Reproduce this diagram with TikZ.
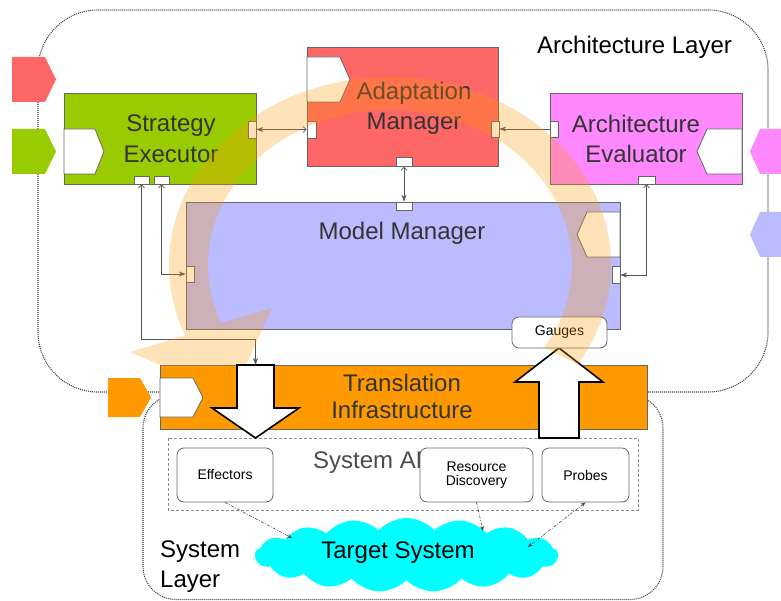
\documentclass[tikz,border=0pt]{standalone}
\usepackage{fontspec}
\setmainfont{Liberation Sans}
\usetikzlibrary{arrows.meta,shapes.symbols,calc}

\definecolor{amred}{HTML}{FF6666}
\definecolor{segreen}{HTML}{99CC00}
\definecolor{aemag}{HTML}{FF88FF}
\definecolor{mmlav}{HTML}{BBBBFF}
\definecolor{tiorange}{HTML}{FF9900}
\definecolor{cloudcyan}{HTML}{00FFFF}
\definecolor{edgegray}{HTML}{666666}
\definecolor{labelgray}{HTML}{333333}
\definecolor{wiregray}{HTML}{555555}

\begin{document}
\begin{tikzpicture}[x=1pt,y=-1pt,
  compbox/.style={draw=edgegray, line width=0.8pt, inner sep=0pt, anchor=north west},
  port/.style={draw=edgegray, fill=white, line width=0.6pt, inner sep=0pt},
  inset/.style={draw=edgegray, fill=white, line width=0.8pt},
  biglabel/.style={font=\fontsize{24}{30}\selectfont, text=labelgray, anchor=base, inner sep=0pt},
  blacklabel/.style={font=\fontsize{24}{30}\selectfont, text=black, inner sep=0pt},
  smallbox/.style={draw=edgegray, fill=white, rounded corners=7pt, line width=0.8pt,
    font=\fontsize{14}{14}\selectfont, align=center, inner sep=0pt},
  conn/.style={draw=wiregray, line width=0.7pt,
    {Straight Barb[length=3pt,width=6pt]}-{Stealth[length=7pt,width=5pt]}},
  oneway/.style={draw=wiregray, line width=0.7pt, -{Stealth[length=7pt,width=5pt]}},
  backway/.style={draw=wiregray, line width=0.7pt,
    {Stealth[length=7pt,width=5pt]}-{Straight Barb[length=3pt,width=6pt]}},
  probe/.style={draw=black!70, line width=0.6pt, dash pattern=on 3pt off 1.5pt on 0.8pt off 1.5pt},
  layerline/.style={draw=black!75, line width=1.1pt, dash pattern=on 1pt off 1pt},
  apiline/.style={draw=black!45, line width=0.8pt, dash pattern=on 3pt off 2pt},
  blockarrow/.style={draw=black, line width=1.6pt, fill=white, line join=miter},
]
\useasboundingbox (0,0) rectangle (781,601);

% layer outlines
\draw[layerline, rounded corners=60pt] (38,10) rectangle (768,392);
\draw[layerline, rounded corners=33pt] (143,395) rectangle (663,599.5);

\node[blacklabel, anchor=base west] (archlayer) at (537,54) {Architecture Layer};
\node[blacklabel, anchor=base west] (syslayer1) at (160,557) {System};
\node[blacklabel, anchor=base west] (syslayer2) at (160,587) {Layer};

% components
\node[compbox, fill=amred, minimum width=191pt, minimum height=119pt] (am) at (307,47) {};
\node[compbox, fill=segreen, minimum width=192pt, minimum height=91pt] (se) at (64,93) {};
\node[compbox, fill=aemag, minimum width=192pt, minimum height=91pt] (ae) at (550,93) {};
\node[compbox, fill=mmlav, minimum width=434pt, minimum height=127pt] (mm) at (186,202) {};
\node[compbox, fill=tiorange, minimum width=487pt, minimum height=64pt] (ti) at (160,365) {};

% interface insets
\draw[inset] (307,57) -- (340,57) -- (350,79.5) -- (340,102) -- (307,102) -- cycle;
\draw[inset] (64,129) -- (95,129) -- (104,151.5) -- (95,174) -- (64,174) -- cycle;
\draw[inset] (160,378) -- (193,378) -- (203,397.5) -- (193,417) -- (160,417) -- cycle;
\draw[inset] (742,129) -- (707,129) -- (697,151.5) -- (707,174) -- (742,174) -- cycle;
\draw[inset] (620,212) -- (587,212) -- (577,234.5) -- (587,257) -- (620,257) -- cycle;

% external connectors
\fill[amred] (12,57) -- (45,57) -- (56,79.5) -- (45,102) -- (12,102) -- cycle;
\fill[segreen] (12,129) -- (45,129) -- (56,151.5) -- (45,174) -- (12,174) -- cycle;
\fill[tiorange] (108,378) -- (140,378) -- (151,397.5) -- (140,417) -- (108,417) -- cycle;
\fill[aemag] (781,129) -- (760,129) -- (750,151.5) -- (760,174) -- (781,174) -- cycle;
\fill[mmlav] (781,212) -- (760,212) -- (750,234.5) -- (760,257) -- (781,257) -- cycle;

% component labels
\node[biglabel] (am1) at (414,100) {Adaptation};
\node[biglabel] (am2) at (414,130) {Manager};
\node[biglabel] (se1) at (171,132) {Strategy};
\node[biglabel] (se2) at (171,163) {Executor};
\node[biglabel] (ae1) at (636,133) {Architecture};
\node[biglabel] (ae2) at (636,163) {Evaluator};
\node[biglabel] (mm1) at (402,240) {Model Manager};
\node[biglabel] (ti1) at (402,391) {Translation};
\node[biglabel] (ti2) at (402,418) {Infrastructure};

% ports
\node[port, minimum width=8pt, minimum height=17pt] (sep) at (252,129.5) {};
\node[port, minimum width=9pt, minimum height=17pt] (amw) at (311.5,129.5) {};
\node[port, minimum width=8pt, minimum height=16pt] (ame) at (495,129) {};
\node[port, minimum width=8pt, minimum height=16pt] (aew) at (554,129) {};
\node[port, minimum width=16pt, minimum height=9pt] (ams) at (404,162) {};
\node[port, minimum width=16pt, minimum height=8pt] (mmn) at (404,206) {};
\node[port, minimum width=17pt, minimum height=8pt] (aes) at (646.5,180) {};
\node[port, minimum width=8pt, minimum height=17pt] (mme) at (616,275) {};
\node[port, minimum width=15pt, minimum height=8pt] (ses1) at (141.5,180) {};
\node[port, minimum width=15pt, minimum height=8pt] (ses2) at (161.5,180) {};
\node[port, minimum width=8pt, minimum height=16pt] (mmw) at (190,274) {};

\coordinate (tiin) at (255.5,365);
\coordinate (bend1) at (255.5,339);

% internal connections
\draw[backway] (sep.east) -- (amw.west);
\draw[oneway] (aew.west) -- (ame.east);
\draw[conn] (ams.south) -- (mmn.north);
\draw[conn] (ses1.south) |- (bend1) -- (tiin);
\draw[conn] (ses2.south) |- (mmw.west);
\draw[conn] (aes.south) |- (mme.east);

% system API and target system
\draw[apiline] (168,438) rectangle (638,510);
\node[font=\fontsize{24}{30}\selectfont, text=black!70, anchor=base west, inner sep=0pt] (api) at (313,468) {System API};

\node[smallbox, minimum width=96pt, minimum height=54pt] (eff) at (225,475) {Effectors};
\node[smallbox, minimum width=113pt, minimum height=54pt] (rd) at (476.5,475) {Resource\\Discovery};
\node[smallbox, minimum width=87pt, minimum height=54pt] (pr) at (585.5,475) {Probes};

\node[cloud, cloud puffs=17, cloud puff arc=95, cloud ignores aspect, fill=cloudcyan, draw=none,
  minimum width=303pt, minimum height=74pt, inner sep=0pt] (ts) at (406.5,555) {};
\node[blacklabel, anchor=base] (tslabel) at (398,558) {Target System};

\coordinate (c1) at (292,538);
\coordinate (c2) at (483,531);
\coordinate (c3) at (528,547);
\draw[probe, -{Stealth[length=5pt,width=4pt]}] (eff.south) -- (c1);
\draw[probe, -{Stealth[length=5pt,width=4pt]}] (rd.south) -- (c2);
\draw[probe, {Stealth[length=5pt,width=4pt]}-{Stealth[length=5pt,width=4pt]}] (pr.south) -- (c3);

% monitoring path
\draw[blockarrow] (539,438) -- (579,438) -- (579,382) -- (603,382) -- (559,348) -- (515,382) -- (539,382) -- cycle;
\node[smallbox, minimum width=95pt, minimum height=31pt] (gauges) at (559.5,332.5) {Gauges};

% adaptation cycle
\fill[tiorange, opacity=0.28]
  ($(390,265)+(32:221 and 188)$) arc[start angle=32, end angle=-202, x radius=221, y radius=188]
  -- (130,352) -- (232,396) -- (272,308)
  -- ($(390,265)+(-202:182 and 155)$) arc[start angle=-202, end angle=32, x radius=182, y radius=155]
  -- cycle;

% effecting path
\draw[blockarrow] (237,365) -- (274,365) -- (274,408) -- (299,408) -- (255.5,438) -- (212,408) -- (237,408) -- cycle;
\end{tikzpicture}
\end{document}
